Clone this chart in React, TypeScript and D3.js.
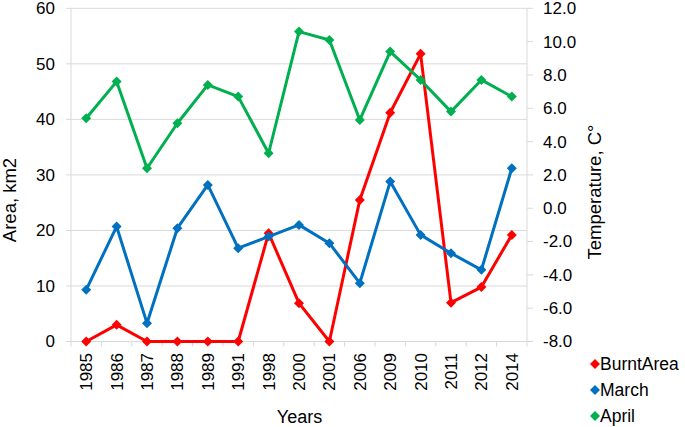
import React from "react";
import * as d3 from "d3";

const years = ["1985","1986","1987","1988","1989","1991","1998","2000","2001","2006","2009","2010","2011","2012","2014"];
const burntArea = [0, 3.0, 0, 0, 0, 0, 19.5, 6.9, 0, 25.5, 41.2, 51.8, 7.0, 9.8, 19.2];
const march = [-4.9, -1.1, -6.9, -1.2, 1.4, -2.4, -1.7, -1.0, -2.1, -4.5, 1.6, -1.6, -2.7, -3.7, 2.4];
const april = [5.4, 7.6, 2.4, 5.1, 7.4, 6.7, 3.3, 10.6, 10.1, 5.3, 9.4, 7.7, 5.8, 7.7, 6.7];
const leftTicks = [0, 10, 20, 30, 40, 50, 60];
const rightTicks = [-8, -6, -4, -2, 0, 2, 4, 6, 8, 10, 12];

const W = 685, H = 427;
const X0 = 71, X1 = 527, Y0 = 341.5, Y1 = 8.3;
const FONT = "Liberation Sans, Arial, sans-serif";

export default function App() {
  const xBand = d3.scaleBand().domain(years).range([X0, X1]).padding(0);
  const xc = (i: number) => (xBand(years[i]) as number) + xBand.bandwidth() / 2;
  const yL = d3.scaleLinear().domain([0, 60]).range([Y0, Y1]);
  const yR = d3.scaleLinear().domain([-8, 12]).range([Y0, Y1]);

  const series = [
    { name: "BurntArea", data: burntArea, scale: yL, color: "#FF0000" },
    { name: "March", data: march, scale: yR, color: "#0070C0" },
    { name: "April", data: april, scale: yR, color: "#00B050" },
  ];

  const diamond = (cx: number, cy: number, r: number) =>
    `M${cx},${cy - r}L${cx + r},${cy}L${cx},${cy + r}L${cx - r},${cy}Z`;

  const boundaries = [...years.map((y) => xBand(y) as number), X1];

  return (
    <svg width={W} height={H} style={{ position: "absolute", left: 0, top: 0 }} fontFamily={FONT}>
      <rect width={W} height={H} fill="#fff" />
      {leftTicks.map((t) => (
        <g key={"l" + t}>
          {t !== 0 && <line x1={X0} x2={X1} y1={yL(t)} y2={yL(t)} stroke="#D9D9D9" strokeWidth={1} />}
          <line x1={X0 - 5} x2={X0} y1={yL(t)} y2={yL(t)} stroke="#D9D9D9" strokeWidth={1} />
          <text x={55} y={yL(t)} dy="0.35em" textAnchor="end" fontSize={17} fill="#000">{t}</text>
        </g>
      ))}
      {rightTicks.map((t) => (
        <g key={"r" + t}>
          <line x1={X1} x2={X1 + 6} y1={yR(t)} y2={yR(t)} stroke="#D9D9D9" strokeWidth={1} />
          <text x={543} y={yR(t)} dy="0.35em" textAnchor="start" fontSize={17} fill="#000">{t.toFixed(1)}</text>
        </g>
      ))}
      <line x1={X0} x2={X0} y1={Y1} y2={Y0} stroke="#D9D9D9" />
      <line x1={X1} x2={X1} y1={Y1} y2={Y0} stroke="#D9D9D9" />
      <line x1={X0} x2={X1} y1={Y0} y2={Y0} stroke="#D9D9D9" />
      {boundaries.map((b, i) => (
        <line key={"b" + i} x1={b} x2={b} y1={Y0} y2={Y0 + 5} stroke="#D9D9D9" />
      ))}
      {years.map((y, i) => (
        <text key={"x" + y} transform={`translate(${xc(i)},${353}) rotate(-90)`} dy="0.35em" textAnchor="end" fontSize={17} fill="#000">{y}</text>
      ))}
      {series.map((s) => {
        const line = d3.line<number>().x((_, i) => xc(i)).y((v) => s.scale(v));
        return (
          <g key={s.name}>
            <path d={line(s.data) || ""} fill="none" stroke={s.color} strokeWidth={3} strokeLinejoin="round" />
            {s.data.map((v, i) => (
              <path key={i} d={diamond(xc(i), s.scale(v), 5)} fill={s.color} />
            ))}
          </g>
        );
      })}
      <text transform={`translate(10,200) rotate(-90)`} dy="0.35em" textAnchor="middle" fontSize={18.5} fill="#000">Area, km2</text>
      <text transform={`translate(595,192) rotate(-90)`} dy="0.35em" textAnchor="middle" fontSize={18.5} fill="#000">Temperature, C°</text>
      <text x={299.5} y={417} dy="0.35em" textAnchor="middle" fontSize={18} fill="#000">Years</text>
      {series.map((s, i) => (
        <g key={"lg" + s.name}>
          <path d={diamond(595, 364 + i * 26, 5)} fill={s.color} />
          <text x={600} y={364 + i * 26} dy="0.35em" fontSize={17.5} fill="#000">{s.name}</text>
        </g>
      ))}
    </svg>
  );
}
